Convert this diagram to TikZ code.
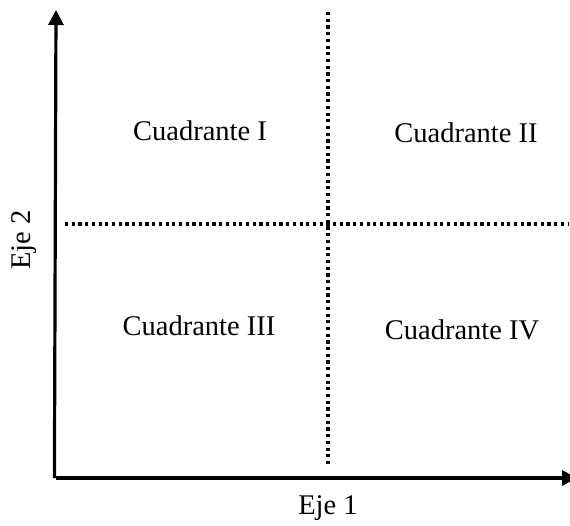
\documentclass[tikz,border=0pt]{standalone}
\usepackage{fontspec}
\setmainfont{Liberation Serif}
\usetikzlibrary{arrows.meta}
\tikzset{
  axis/.style={line width=3.2pt, -{Triangle[length=15pt,width=15pt]}},
  divider/.style={line width=3.4pt, dash pattern=on 3.2pt off 3.5pt},
  lbl/.style={inner sep=0pt, font=\fontsize{28.5}{34}\selectfont}
}
\begin{document}
\begin{tikzpicture}[x=1pt,y=-1pt]
\useasboundingbox (0,0) rectangle (570,525);
\coordinate (O) at (56,478);
\coordinate (Ytop) at (56,10);
\coordinate (Xend) at (577,478);
\coordinate (vT) at (328,12);
\coordinate (vB) at (328,467);
\coordinate (hL) at (65,224);
\coordinate (hR) at (569,224);
\draw[divider] (vT) -- (vB);
\draw[divider] (hL) -- (hR);
\draw[axis] ([xshift=-1.6pt]O) -- (Ytop);
\draw[axis] (O) -- (Xend);
\node[lbl] (q1) at (200,131) {Cuadrante I};
\node[lbl] (q2) at (466,133) {Cuadrante II};
\node[lbl] (q3) at (199,326) {Cuadrante III};
\node[lbl] (q4) at (462,330) {Cuadrante IV};
\node[lbl] (e1) at (328,508) {Eje 1};
\node[lbl, rotate=90] (e2) at (24,240) {Eje 2};
\end{tikzpicture}
\end{document}
